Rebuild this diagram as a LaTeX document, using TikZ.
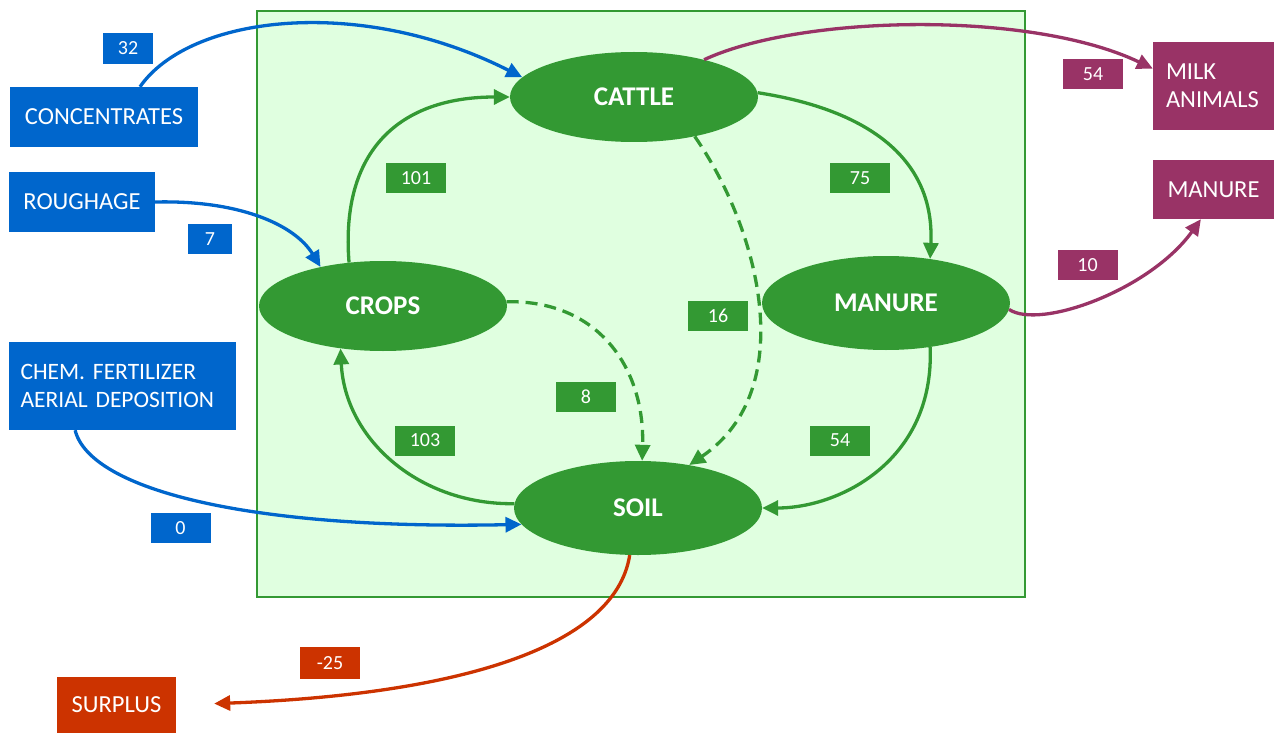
\documentclass[tikz,border=0pt]{standalone}
\usepackage{fontspec}
\setmainfont{Carlito}
\usetikzlibrary{arrows.meta,shapes.geometric}

\definecolor{poolgreen}{HTML}{339933}
\definecolor{farmfill}{HTML}{E0FFE0}
\definecolor{inblue}{HTML}{0066CC}
\definecolor{outpurple}{HTML}{993366}
\definecolor{lossred}{HTML}{CC3300}

\begin{document}
\begin{tikzpicture}[x=1pt, y=-1pt,
    pool/.style={ellipse, fill=poolgreen, text=white, inner sep=0pt,
        minimum width=248pt, minimum height=90pt,
        font=\bfseries\fontsize{27}{32}\selectfont},
    flowbox/.style={rectangle, fill=#1, text=white, inner sep=0pt,
        font=\fontsize{24.5}{28}\selectfont},
    amount/.style={rectangle, fill=#1, text=white, inner sep=0pt,
        minimum width=60pt, minimum height=30pt,
        font=\fontsize{20}{22}\selectfont},
    flow/.style={line width=3.3pt, -{Triangle[length=16pt,width=15pt]}},
    dashflow/.style={flow, dash pattern=on 12pt off 7pt}]

        \useasboundingbox (0,0) rectangle (1283,733);

        % The farm
        \draw[poolgreen, line width=2pt, fill=farmfill] (257,11) rectangle (1025,597);

        % Pools inside the farm
        \node[pool] (cattle) at (634,97) {CATTLE};
        \node[pool] (crops) at (383,306) {CROPS};
        \node[pool, minimum height=94pt] (manure) at (886,303) {MANURE};
        \node[pool, minimum height=94pt] (soil) at (638,508) {SOIL};

        % Inputs
        \node[flowbox=inblue, minimum width=188pt, minimum height=60pt] (conc) at (104,117) {CONCENTRATES};
        \node[flowbox=inblue, minimum width=146pt, minimum height=60pt] (rough) at (82,202) {ROUGHAGE};
        \node[flowbox=inblue, font=\fontsize{23.5}{28}\selectfont, minimum width=227pt, minimum height=88pt,
            text width=204pt, align=left] (chem) at (122.5,386) {CHEM.\ FERTILIZER\\AERIAL DEPOSITION};

        % Outputs
        \node[flowbox=outpurple, minimum width=121pt, minimum height=88pt, text width=95pt, align=left] (milk) at (1213.5,86) {MILK\\ANIMALS};
        \node[flowbox=outpurple, minimum width=121pt, minimum height=59pt] (mout) at (1213.5,189.5) {MANURE};
        \node[flowbox=lossred, minimum width=119pt, minimum height=56pt] (surplus) at (116.5,705) {SURPLUS};

        % Amounts
        \node[amount=inblue, minimum width=50pt, minimum height=31pt] (n32) at (128,48.5) {32};
        \node[amount=inblue, minimum width=44pt] (n7) at (210,239) {7};
        \node[amount=inblue] (n0) at (180.5,528) {0};
        \node[amount=outpurple] (n54a) at (1093,74) {54};
        \node[amount=outpurple] (n10) at (1087.5,265) {10};
        \node[amount=lossred, minimum height=32pt] (n25) at (330,663) {-25};
        \node[amount=poolgreen] (n101) at (416,178) {101};
        \node[amount=poolgreen] (n75) at (860,178) {75};
        \node[amount=poolgreen] (n16) at (718,316) {16};
        \node[amount=poolgreen] (n8) at (586,397) {8};
        \node[amount=poolgreen] (n103) at (425,440.5) {103};
        \node[amount=poolgreen] (n54b) at (840,440.5) {54};

        % Flows into the farm
        \draw[flow, inblue] (conc.40) .. controls (190,15) and (360,-5) .. (cattle.170);
        \draw[flow, inblue] (rough.east) .. controls (240,200) and (295,225) .. (crops.148);
        \draw[flow, inblue] (chem.-137) .. controls (90,490) and (250,530) .. (soil.-172);

        % Flows inside the farm
        \draw[flow, poolgreen] (crops.128) .. controls (340,150) and (400,97) .. (cattle.180);
        \draw[flow, poolgreen] (cattle.2) .. controls (870,110) and (935,160) .. (manure.45);
        \draw[dashflow, poolgreen] (cattle.-33) .. controls (760,230) and (800,390) .. (soil.40);
        \draw[dashflow, poolgreen] (crops.2) .. controls (600,300) and (645,370) .. (soil.85);
        \draw[flow, poolgreen] (soil.178) .. controls (420,505) and (345,440) .. (crops.-135);
        \draw[flow, poolgreen] (manure.-45) .. controls (935,460) and (840,508) .. (soil.0);

        % Flows out of the farm
        \draw[flow, outpurple] (cattle.28) .. controls (800,15) and (1030,10) .. (milk.164);
        \draw[flow, outpurple] (manure.-3) .. controls (1040,330) and (1150,290) .. (mout.-113);
        \draw[flow, lossred, shorten >=38pt] (soil.-100) .. controls (615,650) and (450,695) .. (surplus.east);

\end{tikzpicture}
\end{document}
